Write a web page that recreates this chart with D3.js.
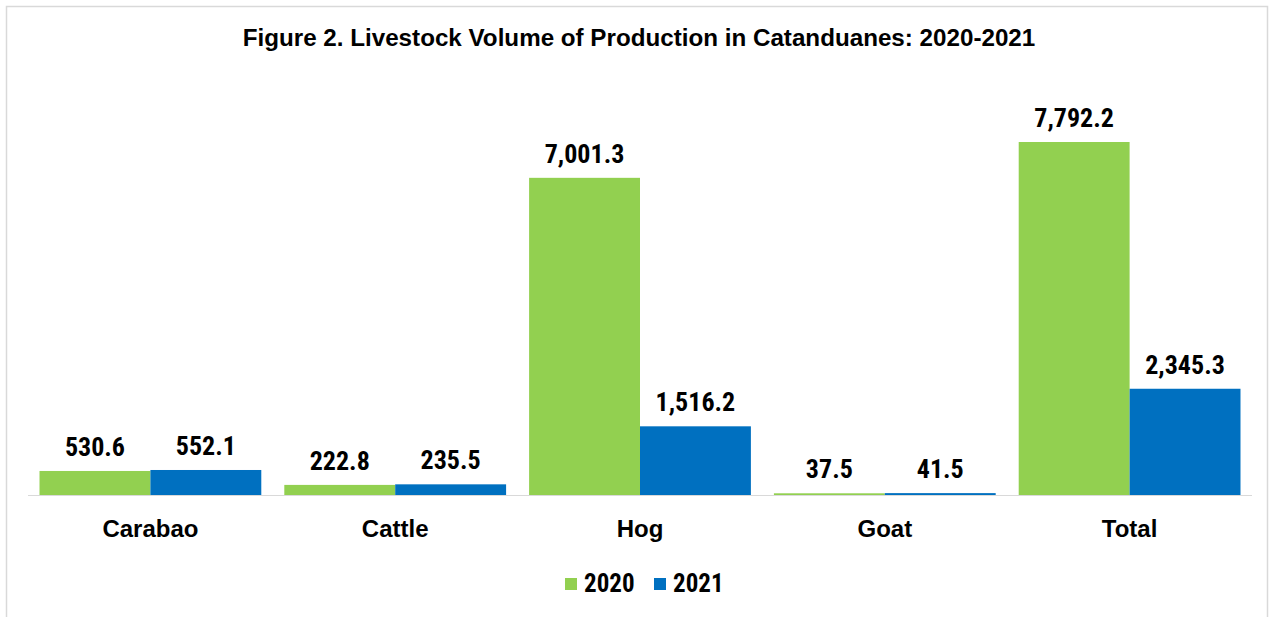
<!DOCTYPE html>
<html><head><meta charset="utf-8">
<script src="https://cdn.jsdelivr.net/npm/d3@7"></script>
<style>
body{margin:0;background:#fff;}
svg text{font-family:"Roboto Condensed","Liberation Sans Narrow","Arial Narrow",sans-serif;font-weight:bold;fill:#000;}
svg text.wide{font-family:"Liberation Sans",Arial,sans-serif;}
</style></head>
<body><svg id="c" width="1274" height="617"></svg>
<script>
const categories = ["Carabao","Cattle","Hog","Goat","Total"];
const seriesNames = ["2020","2021"];
const values2020 = [530.6, 222.8, 7001.3, 37.5, 7792.2];
const values2021 = [552.1, 235.5, 1516.2, 41.5, 2345.3];
const colors = ["#92D050","#0070C0"];
const title = "Figure 2. Livestock Volume of Production in Catanduanes: 2020-2021";

const svg = d3.select("#c");
// frame
svg.append("path").attr("d","M6.5,620 V6.5 H1267.5 V620").attr("fill","none").attr("stroke","#d9d9d9").attr("stroke-width",1.5);

svg.append("text").attr("class","wide").attr("x",639).attr("y",46).attr("text-anchor","middle")
  .style("font-size","24.2px").text(title);

const x0 = d3.scaleBand().domain(categories).range([28,1252]).paddingInner(0.094).paddingOuter(0.047);
const x1 = d3.scaleBand().domain(seriesNames).range([0,x0.bandwidth()]);
const y = d3.scaleLinear().domain([0,7792.2]).range([495,142]);

const data = categories.map((c,i)=>({cat:c, vals:[values2020[i],values2021[i]]}));

const g = svg.append("g");
const grp = g.selectAll("g.cat").data(data).join("g").attr("transform",d=>`translate(${x0(d.cat)},0)`);
grp.selectAll("rect").data(d=>d.vals.map((v,j)=>({v,j}))).join("rect")
  .attr("x",d=>x1(seriesNames[d.j])).attr("width",x1.bandwidth())
  .attr("y",d=>y(d.v)).attr("height",d=>y(0)-y(d.v)).attr("fill",d=>colors[d.j]);
const fmt = d3.format(",.1f");
grp.selectAll("text.v").data(d=>d.vals.map((v,j)=>({v,j}))).join("text").attr("class","v")
  .attr("x",d=>x1(seriesNames[d.j])+x1.bandwidth()/2).attr("y",d=>y(d.v)-15)
  .attr("text-anchor","middle").style("font-size","26px").text(d=>fmt(d.v));

// axis
const ax = svg.append("g").attr("transform",`translate(0,${y(0)})`).call(d3.axisBottom(x0).tickSize(0).tickPadding(25));
ax.select(".domain").attr("stroke","#d9d9d9").attr("d","M28,0.5H1252");
ax.selectAll(".tick text").attr("class","wide").style("font-size","24px").attr("fill","#000");

// legend
const leg = svg.append("g").attr("transform","translate(565,583)");
const items = [{n:"2020",x:0},{n:"2021",x:89}];
items.forEach((it,i)=>{
  leg.append("rect").attr("x",it.x).attr("y",-5).attr("width",12).attr("height",12).attr("fill",colors[i]);
  leg.append("text").attr("x",it.x+19).attr("y",0).attr("dy","0.36em").style("font-size","25px").text(it.n);
});
</script></body></html>
